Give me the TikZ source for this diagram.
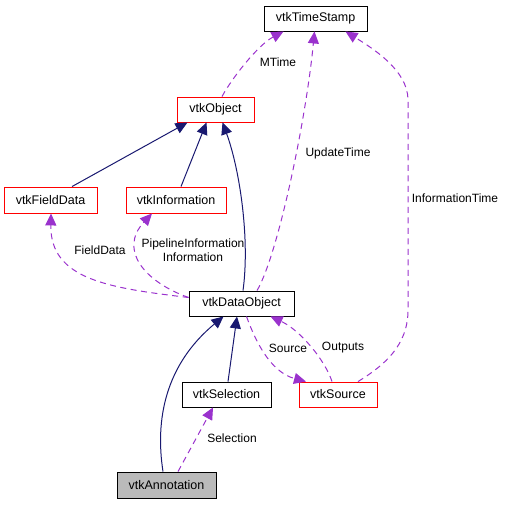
\documentclass[tikz,border=0pt]{standalone}
\usepackage{fontspec}
\setmainfont{Liberation Sans}
\usetikzlibrary{arrows.meta}
\definecolor{edgeblue}{HTML}{191970}
\definecolor{edgepurple}{HTML}{9A32CD}
\tikzset{
  cls/.style={draw=black,line width=0.9pt,minimum height=25pt,inner sep=0pt,
    font=\fontsize{12.5}{14}\selectfont},
  redcls/.style={cls,draw=red},
  inherit/.style={draw=edgeblue,line width=1pt,-{Triangle[length=12pt,width=11pt]}},
  uses/.style={draw=edgepurple,line width=1pt,dash pattern=on 6pt off 4.5pt,
    -{Triangle[length=12pt,width=11pt]}},
  lbl/.style={font=\fontsize{12}{14}\selectfont,inner sep=0pt,align=center}
}
\begin{document}
\begin{tikzpicture}[x=1pt,y=-1pt]
  \useasboundingbox (0,0) rectangle (505,504);
  \begin{scope}
    \node[cls,minimum width=103pt] (ts) at (315.5,18.5) {vtkTimeStamp};
    \node[redcls,minimum width=77pt] (obj) at (215.5,109.5) {vtkObject};

    \node[redcls,minimum width=93pt,minimum height=26pt] (fd) at (50.5,200) {vtkFieldData};
    \node[redcls,minimum width=100pt,minimum height=26pt] (info) at (176,200) {vtkInformation};

    \node[cls,minimum width=105pt] (dobj) at (241.5,303.5) {vtkDataObject};

    \node[cls,minimum width=89pt] (sel) at (226.5,394.5) {vtkSelection};
    \node[redcls,minimum width=78pt] (src) at (338,394.5) {vtkSource};

    \node[cls,fill=black!27,minimum width=99pt,minimum height=26pt] (ann) at (166.5,485) {vtkAnnotation};

    \path[inherit] ([xshift=21.5pt]fd.north) -- ([xshift=-28pt]obj.south);
    \path[inherit] ([xshift=5pt]info.north) -- ([xshift=-9pt]obj.south);
    \path[inherit] ([xshift=1.5pt]dobj.north) .. controls (250,240) and (240,170) .. ([xshift=7pt]obj.south);
    \path[inherit] ([xshift=1.5pt]sel.north) -- ([xshift=-4.5pt]dobj.south);
    \path[inherit] ([xshift=-3.5pt]ann.north) .. controls (155,420) and (165,365) .. ([xshift=-18pt]dobj.south);

    \path[uses] ([xshift=6.5pt]obj.north) .. controls (232,78) and (258,45) .. ([xshift=-32pt]ts.south)
      node[lbl] at (278,62) {MTime};
    \path[uses] ([xshift=15.5pt]dobj.north) .. controls (278,255) and (306,120) .. ([xshift=-1pt]ts.south)
      node[lbl] at (338,153) {UpdateTime};
    \path[uses] ([xshift=20pt]src.north) .. controls (385,365) and (408,345) .. (408,310)
      -- (408,100) .. controls (408,70) and (372,48) .. ([xshift=30pt]ts.south)
      node[lbl] at (455,198) {InformationTime};
    \path[uses] ([yshift=6pt]dobj.west) .. controls (110,288) and (50,280) .. ([xshift=0.5pt]fd.south)
      node[lbl] at (100,250) {FieldData};
    \path[uses] ([yshift=6pt]dobj.west) .. controls (145,282) and (118,250) .. ([xshift=-24pt]info.south)
      node[lbl] at (193,250) {PipelineInformation\\Information};
    \path[uses] ([xshift=5pt]dobj.south) .. controls (255,340) and (270,372) .. ([xshift=-32pt]src.north)
      node[lbl] at (288,348) {Source};
    \path[uses] ([xshift=-6pt]src.north) .. controls (325,360) and (300,330) .. ([xshift=29pt]dobj.south)
      node[lbl] at (343,348) {Outputs};
    \path[uses] ([xshift=11.5pt]ann.north) -- ([xshift=-13.5pt]sel.south)
      node[lbl] at (232,438) {Selection};
  \end{scope}
\end{tikzpicture}
\end{document}
